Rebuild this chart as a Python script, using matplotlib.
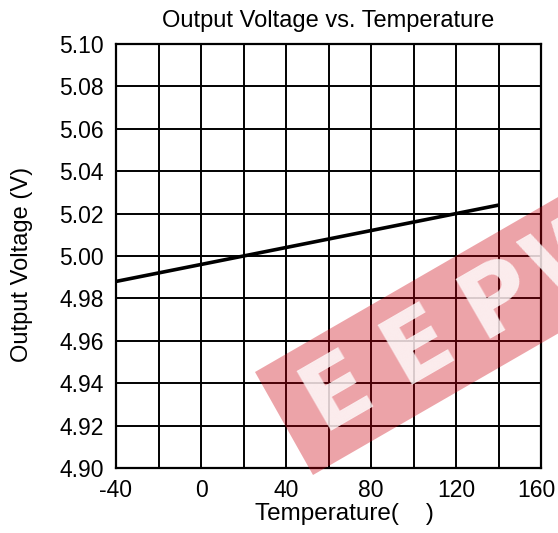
import matplotlib
matplotlib.use("Agg")
import matplotlib.pyplot as plt
from matplotlib.patches import Polygon
import matplotlib.transforms as mtransforms
import numpy as np

plt.rcParams['font.family'] = ['Liberation Sans', 'DejaVu Sans']
plt.rcParams['axes.unicode_minus'] = False

temperature = [-40, 140]
voltage = [4.988, 5.024]
x_ticks = [-40, 0, 40, 80, 120, 160]
y_ticks = [4.90, 4.92, 4.94, 4.96, 4.98, 5.00, 5.02, 5.04, 5.06, 5.08, 5.10]
watermark_letters = ["E", "E", "P", "W"]

W, H = 558, 533
fig = plt.figure(figsize=(W / 100, H / 100), dpi=100)
ax = fig.add_axes([116/W, 1-468/H, 425/W, 424/H])

ax.plot(temperature, voltage, color='black', lw=2.6, solid_capstyle='butt', zorder=3)
ax.set_xlim(-40, 160)
ax.set_ylim(4.90, 5.10)
ax.set_xticks(x_ticks)
ax.set_xticks(np.arange(-40, 161, 20), minor=True)
ax.set_yticks(y_ticks)
ax.set_yticklabels([f"{v:.2f}" for v in y_ticks])
ax.grid(True, which='both', color='black', lw=1.4)
ax.tick_params(which='both', length=0, labelsize=16.5)
ax.tick_params(axis='x', pad=8)
ax.tick_params(axis='y', pad=9)
for s in ax.spines.values():
    s.set_linewidth(1.6)

ax.set_title("Output Voltage vs. Temperature", fontsize=17, pad=12)
ax.set_xlabel("Temperature(    )", fontsize=17.5)
ax.xaxis.set_label_coords((344-116)/425, -0.082)
ax.set_ylabel("Output Voltage (V)", fontsize=17)
ax.yaxis.set_label_coords((33-116)/425, 0.48)

# nudge the last x tick label so it stays inside the figure
fig.canvas.draw()
last = ax.get_xticklabels()[-1]
last.set_transform(last.get_transform() + mtransforms.ScaledTranslation(-5/100, 0, fig.dpi_scale_trans))

# watermark band (figure pixel coordinates -> fractions)
d = np.array([np.cos(np.radians(30)), np.sin(np.radians(30))])
A = np.array([255, H - 372.0])
B = np.array([313, H - 475.0])
L = 520
pts = np.array([B, B + L * d, A + L * d, A])
pts[:, 0] /= W
pts[:, 1] /= H
band = Polygon(pts, closed=True, transform=fig.transFigure, facecolor=(0.80, 0.0, 0.06),
               alpha=0.36, edgecolor='none', zorder=10)
fig.patches.append(band)
M = (A + B) / 2
for i, ch in enumerate(watermark_letters):
    c = M + (62 + 93 * i) * d
    fig.text(c[0] / W, c[1] / H, ch, rotation=30, rotation_mode='anchor',
             ha='center', va='center', fontsize=68, fontweight='heavy',
             family=['DejaVu Sans'], color='white', alpha=0.8, zorder=11)

fig.savefig("out.png", dpi=100)
